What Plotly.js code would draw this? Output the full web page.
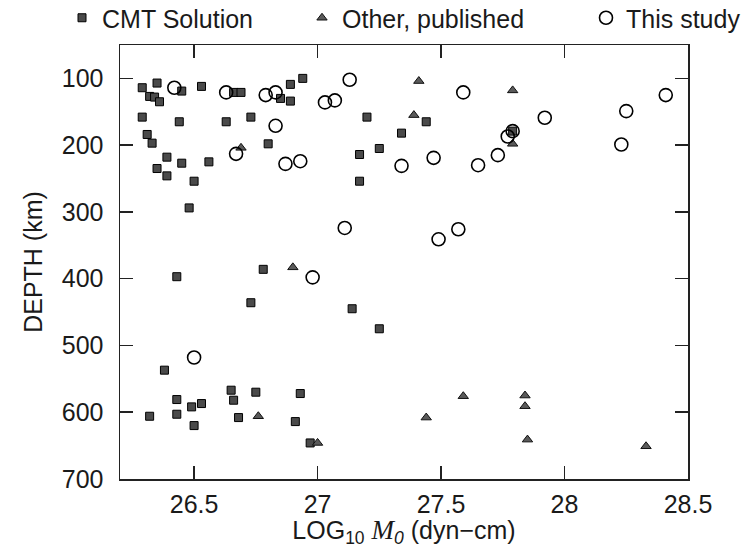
<!DOCTYPE html>
<html>
<head>
<meta charset="utf-8">
<script src="https://cdn.plot.ly/plotly-3.0.1.min.js"></script>
<style>html,body{margin:0;padding:0;background:#fff;}#chart{width:748px;height:548px;}</style>
</head>
<body>
<div id="chart"></div>
<script>
// CMT Solution
var cmtX = [26.29,26.35,26.32,26.34,26.36,26.45,26.53,26.66,26.69,26.89,26.94,26.85,26.89,26.29,26.44,26.63,26.73,26.31,26.33,26.80,26.39,26.45,26.56,26.35,26.39,26.50,26.48,26.78,26.43,26.73,27.20,27.44,27.34,27.25,27.17,27.17,27.79,27.14,27.25,26.38,26.65,26.75,26.93,26.43,26.66,26.49,26.53,26.32,26.43,26.68,26.91,26.50,26.97];
var cmtDepth = [114,107,127,128,135,119,112,121,121,109,100,130,134,158,165,165,158,184,197,198,218,227,225,235,246,254,294,386,397,436,158,165,182,205,214,254,179,445,475,537,567,570,572,581,582,592,587,606,603,608,614,620,646];
// Other, published
var otherX = [26.69,26.90,27.41,27.79,27.39,27.79,26.76,27.00,27.44,27.59,27.84,27.84,27.85,28.33];
var otherDepth = [204,383,104,118,155,198,606,646,608,576,575,591,641,651];
// This study
var studyX = [26.42,26.63,26.79,26.83,27.03,27.07,27.13,26.83,26.67,26.87,26.93,27.11,26.98,27.59,27.92,27.77,27.79,27.34,27.47,27.65,27.73,27.57,27.49,28.25,28.41,28.23,26.50];
var studyDepth = [114,121,125,121,136,133,102,171,213,228,224,324,398,121,159,187,179,231,219,230,215,326,341,149,125,199,518];

var xTickVals = [26.5,27,27.5,28,28.5];
var xTickText = ['26.5','27','27.5','28','28.5'];
var yTickVals = [100,200,300,400,500,600,700];
var yTickText = ['100','200','300','400','500','600','700'];

var FONT = 'Liberation Sans, Arial, Helvetica, sans-serif';
var TXT = '#1a1a1a';

var traces = [
  {x: cmtX, y: cmtDepth, name: 'CMT Solution', type: 'scatter', mode: 'markers', legend: 'legend',
   marker: {symbol: 'square', size: 8, color: '#4a4a4a', line: {color: '#000', width: 1}}},
  {x: otherX, y: otherDepth, name: 'Other, published', type: 'scatter', mode: 'markers', legend: 'legend2',
   marker: {symbol: 'triangle-up', size: 9, color: '#5a5a5a', line: {color: '#111', width: 1}}},
  {x: studyX, y: studyDepth, name: 'This study', type: 'scatter', mode: 'markers', legend: 'legend3',
   marker: {symbol: 'circle-open', size: 13, color: '#000', line: {color: '#000', width: 1.6}}}
];

function leg(px) {
  return {x: px / 748, xref: 'container', xanchor: 'left', y: 1 - 18 / 548, yref: 'container', yanchor: 'middle',
          orientation: 'h', bgcolor: 'rgba(0,0,0,0)', font: {family: FONT, size: 25, color: TXT}};
}

var axisCommon = {
  showline: true, linewidth: 1.5, linecolor: '#222', mirror: 'ticks',
  ticks: 'inside', ticklen: 13, tickwidth: 1.5, tickcolor: '#222',
  showgrid: false, zeroline: false,
  tickfont: {family: FONT, size: 25, color: TXT}
};

var layout = {
  width: 748, height: 548,
  margin: {l: 120, r: 60, t: 45, b: 69},
  paper_bgcolor: '#fff', plot_bgcolor: '#fff',
  font: {family: FONT, size: 25, color: TXT},
  showlegend: true,
  legend: leg(62), legend2: leg(302), legend3: leg(586),
  xaxis: Object.assign({}, axisCommon, {
    range: [26.2, 28.5], tickvals: xTickVals, ticktext: xTickText, ticklabelstandoff: 2,
    title: {text: 'LOG<sub>10</sub> <span style="font-family:Liberation Serif;font-style:italic;font-size:27px">M</span><sub><i>0</i></sub> (dyn\u2212cm)',
            font: {family: FONT, size: 25, color: TXT}, standoff: 7}
  }),
  yaxis: Object.assign({}, axisCommon, {
    range: [700, 50], tickvals: yTickVals, ticktext: yTickText, ticklabelstandoff: 10,
    title: {text: 'DEPTH (km)', font: {family: FONT, size: 25, color: TXT}, standoff: 12}
  })
};

Plotly.newPlot('chart', traces, layout, {displayModeBar: false, staticPlot: true});
</script>
</body>
</html>
